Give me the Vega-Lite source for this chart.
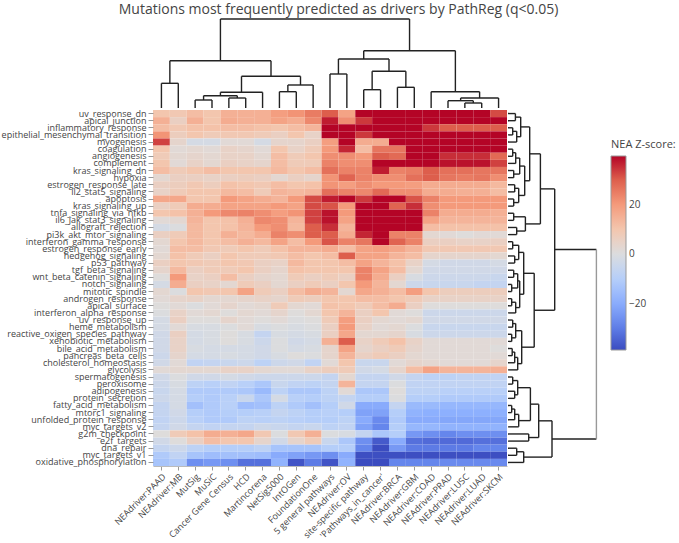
{
"$schema": "https://vega.github.io/schema/vega-lite/v6.json",
"background": "white",
"padding": {"left": 1, "top": 3, "right": 0, "bottom": 0},
"title": {"text": "Mutations most frequently predicted as drivers by PathReg (q<0.05)", "font": "Open Sans", "fontSize": 14, "fontWeight": "normal", "color": "#444", "anchor": "middle", "offset": 1},
"datasets": {
"methods": [{"c":0,"m":"NEAdriver:PAAD"},{"c":1,"m":"NEAdriver:MB"},{"c":2,"m":"MutSig"},{"c":3,"m":"MuSiC"},{"c":4,"m":"Cancer Gene Census"},{"c":5,"m":"HCD"},{"c":6,"m":"Martincorena"},{"c":7,"m":"NetSig5000"},{"c":8,"m":"IntOGen"},{"c":9,"m":"FoundationOne"},{"c":10,"m":"5 general pathways"},{"c":11,"m":"NEAdriver:OV"},{"c":12,"m":"site-specific pathway"},{"c":13,"m":"'Pathways_in_cancer'"},{"c":14,"m":"NEAdriver:BRCA"},{"c":15,"m":"NEAdriver:GBM"},{"c":16,"m":"NEAdriver:COAD"},{"c":17,"m":"NEAdriver:PRAD"},{"c":18,"m":"NEAdriver:LUSC"},{"c":19,"m":"NEAdriver:LUAD"},{"c":20,"m":"NEAdriver:SKCM"}],
"genes": [{"r":0,"g":"uv_response_dn"},{"r":1,"g":"apical_junction"},{"r":2,"g":"inflammatory_response"},{"r":3,"g":"epithelial_mesenchymal_transition"},{"r":4,"g":"myogenesis"},{"r":5,"g":"coagulation"},{"r":6,"g":"angiogenesis"},{"r":7,"g":"complement"},{"r":8,"g":"kras_signaling_dn"},{"r":9,"g":"hypoxia"},{"r":10,"g":"estrogen_response_late"},{"r":11,"g":"il2_stat5_signaling"},{"r":12,"g":"apoptosis"},{"r":13,"g":"kras_signaling_up"},{"r":14,"g":"tnfa_signaling_via_nfkb"},{"r":15,"g":"il6_jak_stat3_signaling"},{"r":16,"g":"allograft_rejection"},{"r":17,"g":"pi3k_akt_mtor_signaling"},{"r":18,"g":"interferon_gamma_response"},{"r":19,"g":"estrogen_response_early"},{"r":20,"g":"hedgehog_signaling"},{"r":21,"g":"p53_pathway"},{"r":22,"g":"tgf_beta_signaling"},{"r":23,"g":"wnt_beta_catenin_signaling"},{"r":24,"g":"notch_signaling"},{"r":25,"g":"mitotic_spindle"},{"r":26,"g":"androgen_response"},{"r":27,"g":"apical_surface"},{"r":28,"g":"interferon_alpha_response"},{"r":29,"g":"uv_response_up"},{"r":30,"g":"heme_metabolism"},{"r":31,"g":"reactive_oxigen_species_pathway"},{"r":32,"g":"xenobiotic_metabolism"},{"r":33,"g":"bile_acid_metabolism"},{"r":34,"g":"pancreas_beta_cells"},{"r":35,"g":"cholesterol_homeostasis"},{"r":36,"g":"glycolysis"},{"r":37,"g":"spermatogenesis"},{"r":38,"g":"peroxisome"},{"r":39,"g":"adipogenesis"},{"r":40,"g":"protein_secretion"},{"r":41,"g":"fatty_acid_metabolism"},{"r":42,"g":"mtorc1_signaling"},{"r":43,"g":"unfolded_protein_response"},{"r":44,"g":"myc_targets_v2"},{"r":45,"g":"g2m_checkpoint"},{"r":46,"g":"e2f_targets"},{"r":47,"g":"dna_repair"},{"r":48,"g":"myc_targets_v1"},{"r":49,"g":"oxidative_phosphorylation"}],
"colTree": [
{"xl":0,"xr":1,"hl":0,"hr":0,"h":24.7},
{"xl":2,"xr":3,"hl":0,"hr":0,"h":8},
{"xl":4,"xr":5,"hl":0,"hr":0,"h":10},
{"xl":2.5,"xr":4.5,"hl":8,"hr":10,"h":12.3},
{"xl":3.5,"xr":6,"hl":12.3,"hr":0,"h":15.7},
{"xl":7,"xr":8,"hl":0,"hr":0,"h":16.3},
{"xl":7.5,"xr":9,"hl":16.3,"hr":0,"h":23},
{"xl":4.75,"xr":8.25,"hl":15.7,"hr":23,"h":31.7},
{"xl":0.5,"xr":6.5,"hl":24.7,"hr":31.7,"h":47.3},
{"xl":10,"xr":11,"hl":0,"hr":0,"h":34},
{"xl":12,"xr":13,"hl":0,"hr":0,"h":18.3},
{"xl":14,"xr":15,"hl":0,"hr":0,"h":20.7},
{"xl":12.5,"xr":14.5,"hl":18.3,"hr":20.7,"h":36.7},
{"xl":10.5,"xr":13.5,"hl":34,"hr":36.7,"h":49},
{"xl":18,"xr":19,"hl":0,"hr":0,"h":5},
{"xl":17,"xr":18.5,"hl":0,"hr":5,"h":7.3},
{"xl":17.75,"xr":20,"hl":7.3,"hr":0,"h":10},
{"xl":16,"xr":18.875,"hl":0,"hr":10,"h":16.3},
{"xl":12,"xr":17.4375,"hl":49,"hr":16.3,"h":57.3},
{"xl":3.5,"xr":14.71875,"hl":47.3,"hr":57.3,"h":89}
],
"rowTree": [
{"n":"n1","a":0,"b":1,"da":0,"db":0,"d":7.4},
{"n":"n2","a":2,"b":3,"da":0,"db":0,"d":4.7},
{"n":"n3","a":2.5,"b":4,"da":4.7,"db":0,"d":8.7},
{"n":"n4","a":0.5,"b":3.25,"da":7.4,"db":8.7,"d":12.7},
{"n":"n5","a":5,"b":6,"da":0,"db":0,"d":4.7},
{"n":"n6","a":5.5,"b":7,"da":4.7,"db":0,"d":7.7},
{"n":"n7","a":8,"b":9,"da":0,"db":0,"d":5.7},
{"n":"n8","a":6.25,"b":8.5,"da":7.7,"db":5.7,"d":11.7},
{"n":"n9","a":10,"b":11,"da":0,"db":0,"d":6.7},
{"n":"n10","a":12,"b":13,"da":0,"db":0,"d":5.7},
{"n":"n11","a":10.5,"b":12.5,"da":6.7,"db":5.7,"d":10.7},
{"n":"n12","a":7.375,"b":11.5,"da":11.7,"db":10.7,"d":16.7},
{"n":"U1a","a":1.875,"b":9.4375,"da":12.7,"db":16.7,"d":21.7},
{"n":"n13","a":14,"b":15,"da":0,"db":0,"d":5.7},
{"n":"n14","a":16,"b":17,"da":0,"db":0,"d":8.7},
{"n":"n15","a":14.5,"b":16.5,"da":5.7,"db":8.7,"d":17.4},
{"n":"U1","a":5.65625,"b":15.5,"da":21.7,"db":17.4,"d":32.4},
{"n":"n16","a":18,"b":19,"da":0,"db":0,"d":4.7},
{"n":"n17","a":20,"b":21,"da":0,"db":0,"d":6.7},
{"n":"n18","a":18.5,"b":20.5,"da":4.7,"db":6.7,"d":10.7},
{"n":"n19","a":22,"b":23,"da":0,"db":0,"d":5.7},
{"n":"n20","a":24,"b":25,"da":0,"db":0,"d":3.7},
{"n":"n21","a":22.5,"b":24.5,"da":5.7,"db":3.7,"d":9.7},
{"n":"n22","a":26,"b":27,"da":0,"db":0,"d":3.7},
{"n":"n23","a":26.5,"b":28,"da":3.7,"db":0,"d":7.7},
{"n":"n24","a":23.5,"b":27.25,"da":9.7,"db":7.7,"d":11.7},
{"n":"U2a","a":19.5,"b":25.375,"da":10.7,"db":11.7,"d":15.7},
{"n":"n25","a":29,"b":30,"da":0,"db":0,"d":4.7},
{"n":"n26","a":31,"b":32,"da":0,"db":0,"d":3.7},
{"n":"n27","a":29.5,"b":31.5,"da":4.7,"db":3.7,"d":7.7},
{"n":"n28","a":33,"b":34,"da":0,"db":0,"d":4.2},
{"n":"n29","a":33.5,"b":35,"da":4.2,"db":0,"d":6.7},
{"n":"n30","a":34.25,"b":36,"da":6.7,"db":0,"d":9.7},
{"n":"U2b","a":30.5,"b":35.125,"da":7.7,"db":9.7,"d":13.7},
{"n":"U2","a":22.4375,"b":32.8125,"da":15.7,"db":13.7,"d":26.2},
{"n":"U","a":10.578125,"b":27.625,"da":32.4,"db":26.2,"d":46.7},
{"n":"n31","a":37,"b":38,"da":0,"db":0,"d":4.7},
{"n":"n32","a":39,"b":40,"da":0,"db":0,"d":6.7},
{"n":"n33","a":37.5,"b":39.5,"da":4.7,"db":6.7,"d":9.7},
{"n":"n34","a":41,"b":42,"da":0,"db":0,"d":3.7},
{"n":"n35","a":41.5,"b":43,"da":3.7,"db":0,"d":6.7},
{"n":"n36","a":42.25,"b":44,"da":6.7,"db":0,"d":10.7},
{"n":"L1a","a":38.5,"b":43.125,"da":9.7,"db":10.7,"d":22.4},
{"n":"L1b","a":45,"b":46,"da":0,"db":0,"d":20.7},
{"n":"L1","a":40.8125,"b":45.5,"da":22.4,"db":20.7,"d":30.7},
{"n":"n37","a":47,"b":48,"da":0,"db":0,"d":8.7},
{"n":"L2","a":47.5,"b":49,"da":8.7,"db":0,"d":15.7},
{"n":"L","a":43.15625,"b":48.25,"da":30.7,"db":15.7,"d":44},
{"n":"root","a":19.1015625,"b":45.703125,"da":46.7,"db":44,"d":88.4}
],
"cells": [
{"r":0,"c":0,"z":10},{"r":0,"c":1,"z":9},{"r":0,"c":2,"z":12},{"r":0,"c":3,"z":10},{"r":0,"c":4,"z":15},{"r":0,"c":5,"z":15},{"r":0,"c":6,"z":15},{"r":0,"c":7,"z":19},{"r":0,"c":8,"z":21},{"r":0,"c":9,"z":25},{"r":0,"c":10,"z":30},{"r":0,"c":11,"z":18},{"r":0,"c":12,"z":40},{"r":0,"c":13,"z":40},{"r":0,"c":14,"z":40},{"r":0,"c":15,"z":40},{"r":0,"c":16,"z":40},{"r":0,"c":17,"z":40},{"r":0,"c":18,"z":40},{"r":0,"c":19,"z":40},{"r":0,"c":20,"z":32},
{"r":1,"c":0,"z":15},{"r":1,"c":1,"z":6},{"r":1,"c":2,"z":15},{"r":1,"c":3,"z":10},{"r":1,"c":4,"z":16},{"r":1,"c":5,"z":15},{"r":1,"c":6,"z":15},{"r":1,"c":7,"z":18},{"r":1,"c":8,"z":16},{"r":1,"c":9,"z":23},{"r":1,"c":10,"z":37},{"r":1,"c":11,"z":22},{"r":1,"c":12,"z":34},{"r":1,"c":13,"z":40},{"r":1,"c":14,"z":40},{"r":1,"c":15,"z":40},{"r":1,"c":16,"z":40},{"r":1,"c":17,"z":40},{"r":1,"c":18,"z":40},{"r":1,"c":19,"z":40},{"r":1,"c":20,"z":40},
{"r":2,"c":0,"z":12},{"r":2,"c":1,"z":9},{"r":2,"c":2,"z":11},{"r":2,"c":3,"z":11},{"r":2,"c":4,"z":12},{"r":2,"c":5,"z":12},{"r":2,"c":6,"z":11},{"r":2,"c":7,"z":10},{"r":2,"c":8,"z":12},{"r":2,"c":9,"z":14},{"r":2,"c":10,"z":40},{"r":2,"c":11,"z":40},{"r":2,"c":12,"z":40},{"r":2,"c":13,"z":40},{"r":2,"c":14,"z":40},{"r":2,"c":15,"z":40},{"r":2,"c":16,"z":34},{"r":2,"c":17,"z":30},{"r":2,"c":18,"z":30},{"r":2,"c":19,"z":30},{"r":2,"c":20,"z":30},
{"r":3,"c":0,"z":21},{"r":3,"c":1,"z":7},{"r":3,"c":2,"z":10},{"r":3,"c":3,"z":8},{"r":3,"c":4,"z":9},{"r":3,"c":5,"z":9},{"r":3,"c":6,"z":8},{"r":3,"c":7,"z":6},{"r":3,"c":8,"z":10},{"r":3,"c":9,"z":5},{"r":3,"c":10,"z":40},{"r":3,"c":11,"z":40},{"r":3,"c":12,"z":34},{"r":3,"c":13,"z":40},{"r":3,"c":14,"z":40},{"r":3,"c":15,"z":40},{"r":3,"c":16,"z":40},{"r":3,"c":17,"z":40},{"r":3,"c":18,"z":40},{"r":3,"c":19,"z":40},{"r":3,"c":20,"z":40},
{"r":4,"c":0,"z":33},{"r":4,"c":1,"z":4},{"r":4,"c":2,"z":-2},{"r":4,"c":3,"z":-2},{"r":4,"c":4,"z":2},{"r":4,"c":5,"z":2},{"r":4,"c":6,"z":-2},{"r":4,"c":7,"z":4},{"r":4,"c":8,"z":4},{"r":4,"c":9,"z":6},{"r":4,"c":10,"z":19},{"r":4,"c":11,"z":40},{"r":4,"c":12,"z":16},{"r":4,"c":13,"z":16},{"r":4,"c":14,"z":40},{"r":4,"c":15,"z":40},{"r":4,"c":16,"z":40},{"r":4,"c":17,"z":40},{"r":4,"c":18,"z":40},{"r":4,"c":19,"z":40},{"r":4,"c":20,"z":40},
{"r":5,"c":0,"z":10},{"r":5,"c":1,"z":2},{"r":5,"c":2,"z":3},{"r":5,"c":3,"z":2},{"r":5,"c":4,"z":5},{"r":5,"c":5,"z":4},{"r":5,"c":6,"z":2},{"r":5,"c":7,"z":10},{"r":5,"c":8,"z":5},{"r":5,"c":9,"z":8},{"r":5,"c":10,"z":20},{"r":5,"c":11,"z":36},{"r":5,"c":12,"z":12},{"r":5,"c":13,"z":26},{"r":5,"c":14,"z":26},{"r":5,"c":15,"z":40},{"r":5,"c":16,"z":40},{"r":5,"c":17,"z":40},{"r":5,"c":18,"z":40},{"r":5,"c":19,"z":40},{"r":5,"c":20,"z":40},
{"r":6,"c":0,"z":8},{"r":6,"c":1,"z":3},{"r":6,"c":2,"z":4},{"r":6,"c":3,"z":3},{"r":6,"c":4,"z":5},{"r":6,"c":5,"z":5},{"r":6,"c":6,"z":3},{"r":6,"c":7,"z":12},{"r":6,"c":8,"z":8},{"r":6,"c":9,"z":10},{"r":6,"c":10,"z":22},{"r":6,"c":11,"z":22},{"r":6,"c":12,"z":20},{"r":6,"c":13,"z":30},{"r":6,"c":14,"z":28},{"r":6,"c":15,"z":40},{"r":6,"c":16,"z":40},{"r":6,"c":17,"z":35},{"r":6,"c":18,"z":35},{"r":6,"c":19,"z":35},{"r":6,"c":20,"z":28},
{"r":7,"c":0,"z":10},{"r":7,"c":1,"z":2},{"r":7,"c":2,"z":5},{"r":7,"c":3,"z":3},{"r":7,"c":4,"z":6},{"r":7,"c":5,"z":5},{"r":7,"c":6,"z":4},{"r":7,"c":7,"z":12},{"r":7,"c":8,"z":8},{"r":7,"c":9,"z":8},{"r":7,"c":10,"z":24},{"r":7,"c":11,"z":22},{"r":7,"c":12,"z":22},{"r":7,"c":13,"z":40},{"r":7,"c":14,"z":40},{"r":7,"c":15,"z":40},{"r":7,"c":16,"z":40},{"r":7,"c":17,"z":38},{"r":7,"c":18,"z":38},{"r":7,"c":19,"z":38},{"r":7,"c":20,"z":33},
{"r":8,"c":0,"z":12},{"r":8,"c":1,"z":8},{"r":8,"c":2,"z":10},{"r":8,"c":3,"z":12},{"r":8,"c":4,"z":10},{"r":8,"c":5,"z":10},{"r":8,"c":6,"z":10},{"r":8,"c":7,"z":13},{"r":8,"c":8,"z":10},{"r":8,"c":9,"z":12},{"r":8,"c":10,"z":27},{"r":8,"c":11,"z":24},{"r":8,"c":12,"z":24},{"r":8,"c":13,"z":37},{"r":8,"c":14,"z":24},{"r":8,"c":15,"z":25},{"r":8,"c":16,"z":30},{"r":8,"c":17,"z":27},{"r":8,"c":18,"z":27},{"r":8,"c":19,"z":26},{"r":8,"c":20,"z":26},
{"r":9,"c":0,"z":3},{"r":9,"c":1,"z":6},{"r":9,"c":2,"z":6},{"r":9,"c":3,"z":5},{"r":9,"c":4,"z":6},{"r":9,"c":5,"z":7},{"r":9,"c":6,"z":6},{"r":9,"c":7,"z":3},{"r":9,"c":8,"z":6},{"r":9,"c":9,"z":4},{"r":9,"c":10,"z":21},{"r":9,"c":11,"z":29},{"r":9,"c":12,"z":24},{"r":9,"c":13,"z":22},{"r":9,"c":14,"z":22},{"r":9,"c":15,"z":27},{"r":9,"c":16,"z":30},{"r":9,"c":17,"z":26},{"r":9,"c":18,"z":25},{"r":9,"c":19,"z":26},{"r":9,"c":20,"z":22},
{"r":10,"c":0,"z":6},{"r":10,"c":1,"z":7},{"r":10,"c":2,"z":9},{"r":10,"c":3,"z":7},{"r":10,"c":4,"z":11},{"r":10,"c":5,"z":10},{"r":10,"c":6,"z":9},{"r":10,"c":7,"z":12},{"r":10,"c":8,"z":10},{"r":10,"c":9,"z":11},{"r":10,"c":10,"z":21},{"r":10,"c":11,"z":19},{"r":10,"c":12,"z":22},{"r":10,"c":13,"z":20},{"r":10,"c":14,"z":20},{"r":10,"c":15,"z":19},{"r":10,"c":16,"z":16},{"r":10,"c":17,"z":16},{"r":10,"c":18,"z":16},{"r":10,"c":19,"z":16},{"r":10,"c":20,"z":13},
{"r":11,"c":0,"z":5},{"r":11,"c":1,"z":8},{"r":11,"c":2,"z":10},{"r":11,"c":3,"z":10},{"r":11,"c":4,"z":13},{"r":11,"c":5,"z":12},{"r":11,"c":6,"z":8},{"r":11,"c":7,"z":14},{"r":11,"c":8,"z":13},{"r":11,"c":9,"z":14},{"r":11,"c":10,"z":27},{"r":11,"c":11,"z":24},{"r":11,"c":12,"z":23},{"r":11,"c":13,"z":28},{"r":11,"c":14,"z":22},{"r":11,"c":15,"z":22},{"r":11,"c":16,"z":16},{"r":11,"c":17,"z":16},{"r":11,"c":18,"z":15},{"r":11,"c":19,"z":15},{"r":11,"c":20,"z":12},
{"r":12,"c":0,"z":17},{"r":12,"c":1,"z":17},{"r":12,"c":2,"z":10},{"r":12,"c":3,"z":10},{"r":12,"c":4,"z":20},{"r":12,"c":5,"z":18},{"r":12,"c":6,"z":16},{"r":12,"c":7,"z":14},{"r":12,"c":8,"z":20},{"r":12,"c":9,"z":32},{"r":12,"c":10,"z":37},{"r":12,"c":11,"z":40},{"r":12,"c":12,"z":34},{"r":12,"c":13,"z":40},{"r":12,"c":14,"z":40},{"r":12,"c":15,"z":31},{"r":12,"c":16,"z":24},{"r":12,"c":17,"z":20},{"r":12,"c":18,"z":20},{"r":12,"c":19,"z":20},{"r":12,"c":20,"z":20},
{"r":13,"c":0,"z":6},{"r":13,"c":1,"z":8},{"r":13,"c":2,"z":16},{"r":13,"c":3,"z":16},{"r":13,"c":4,"z":18},{"r":13,"c":5,"z":18},{"r":13,"c":6,"z":18},{"r":13,"c":7,"z":20},{"r":13,"c":8,"z":18},{"r":13,"c":9,"z":32},{"r":13,"c":10,"z":31},{"r":13,"c":11,"z":20},{"r":13,"c":12,"z":40},{"r":13,"c":13,"z":40},{"r":13,"c":14,"z":29},{"r":13,"c":15,"z":35},{"r":13,"c":16,"z":22},{"r":13,"c":17,"z":20},{"r":13,"c":18,"z":20},{"r":13,"c":19,"z":20},{"r":13,"c":20,"z":20},
{"r":14,"c":0,"z":10},{"r":14,"c":1,"z":11},{"r":14,"c":2,"z":15},{"r":14,"c":3,"z":20},{"r":14,"c":4,"z":23},{"r":14,"c":5,"z":24},{"r":14,"c":6,"z":22},{"r":14,"c":7,"z":19},{"r":14,"c":8,"z":21},{"r":14,"c":9,"z":33},{"r":14,"c":10,"z":38},{"r":14,"c":11,"z":20},{"r":14,"c":12,"z":40},{"r":14,"c":13,"z":40},{"r":14,"c":14,"z":40},{"r":14,"c":15,"z":40},{"r":14,"c":16,"z":24},{"r":14,"c":17,"z":16},{"r":14,"c":18,"z":16},{"r":14,"c":19,"z":16},{"r":14,"c":20,"z":15},
{"r":15,"c":0,"z":2},{"r":15,"c":1,"z":3},{"r":15,"c":2,"z":14},{"r":15,"c":3,"z":10},{"r":15,"c":4,"z":11},{"r":15,"c":5,"z":15},{"r":15,"c":6,"z":23},{"r":15,"c":7,"z":22},{"r":15,"c":8,"z":14},{"r":15,"c":9,"z":33},{"r":15,"c":10,"z":38},{"r":15,"c":11,"z":18},{"r":15,"c":12,"z":40},{"r":15,"c":13,"z":40},{"r":15,"c":14,"z":40},{"r":15,"c":15,"z":40},{"r":15,"c":16,"z":18},{"r":15,"c":17,"z":14},{"r":15,"c":18,"z":14},{"r":15,"c":19,"z":14},{"r":15,"c":20,"z":14},
{"r":16,"c":0,"z":-2},{"r":16,"c":1,"z":0},{"r":16,"c":2,"z":13},{"r":16,"c":3,"z":10},{"r":16,"c":4,"z":11},{"r":16,"c":5,"z":14},{"r":16,"c":6,"z":20},{"r":16,"c":7,"z":22},{"r":16,"c":8,"z":13},{"r":16,"c":9,"z":30},{"r":16,"c":10,"z":35},{"r":16,"c":11,"z":14},{"r":16,"c":12,"z":40},{"r":16,"c":13,"z":40},{"r":16,"c":14,"z":40},{"r":16,"c":15,"z":40},{"r":16,"c":16,"z":12},{"r":16,"c":17,"z":11},{"r":16,"c":18,"z":11},{"r":16,"c":19,"z":11},{"r":16,"c":20,"z":11},
{"r":17,"c":0,"z":6},{"r":17,"c":1,"z":8},{"r":17,"c":2,"z":13},{"r":17,"c":3,"z":10},{"r":17,"c":4,"z":15},{"r":17,"c":5,"z":13},{"r":17,"c":6,"z":16},{"r":17,"c":7,"z":24},{"r":17,"c":8,"z":22},{"r":17,"c":9,"z":30},{"r":17,"c":10,"z":30},{"r":17,"c":11,"z":16},{"r":17,"c":12,"z":36},{"r":17,"c":13,"z":40},{"r":17,"c":14,"z":24},{"r":17,"c":15,"z":24},{"r":17,"c":16,"z":3},{"r":17,"c":17,"z":2},{"r":17,"c":18,"z":1},{"r":17,"c":19,"z":2},{"r":17,"c":20,"z":2},
{"r":18,"c":0,"z":3},{"r":18,"c":1,"z":10},{"r":18,"c":2,"z":13},{"r":18,"c":3,"z":10},{"r":18,"c":4,"z":12},{"r":18,"c":5,"z":15},{"r":18,"c":6,"z":13},{"r":18,"c":7,"z":18},{"r":18,"c":8,"z":12},{"r":18,"c":9,"z":20},{"r":18,"c":10,"z":31},{"r":18,"c":11,"z":24},{"r":18,"c":12,"z":26},{"r":18,"c":13,"z":40},{"r":18,"c":14,"z":29},{"r":18,"c":15,"z":24},{"r":18,"c":16,"z":6},{"r":18,"c":17,"z":6},{"r":18,"c":18,"z":5},{"r":18,"c":19,"z":5},{"r":18,"c":20,"z":6},
{"r":19,"c":0,"z":2},{"r":19,"c":1,"z":12},{"r":19,"c":2,"z":12},{"r":19,"c":3,"z":9},{"r":19,"c":4,"z":8},{"r":19,"c":5,"z":10},{"r":19,"c":6,"z":8},{"r":19,"c":7,"z":11},{"r":19,"c":8,"z":14},{"r":19,"c":9,"z":14},{"r":19,"c":10,"z":16},{"r":19,"c":11,"z":12},{"r":19,"c":12,"z":18},{"r":19,"c":13,"z":19},{"r":19,"c":14,"z":17},{"r":19,"c":15,"z":14},{"r":19,"c":16,"z":9},{"r":19,"c":17,"z":9},{"r":19,"c":18,"z":9},{"r":19,"c":19,"z":9},{"r":19,"c":20,"z":9},
{"r":20,"c":0,"z":3},{"r":20,"c":1,"z":11},{"r":20,"c":2,"z":8},{"r":20,"c":3,"z":6},{"r":20,"c":4,"z":10},{"r":20,"c":5,"z":8},{"r":20,"c":6,"z":8},{"r":20,"c":7,"z":9},{"r":20,"c":8,"z":12},{"r":20,"c":9,"z":10},{"r":20,"c":10,"z":12},{"r":20,"c":11,"z":30},{"r":20,"c":12,"z":18},{"r":20,"c":13,"z":18},{"r":20,"c":14,"z":14},{"r":20,"c":15,"z":12},{"r":20,"c":16,"z":4},{"r":20,"c":17,"z":4},{"r":20,"c":18,"z":4},{"r":20,"c":19,"z":4},{"r":20,"c":20,"z":3},
{"r":21,"c":0,"z":6},{"r":21,"c":1,"z":10},{"r":21,"c":2,"z":9},{"r":21,"c":3,"z":8},{"r":21,"c":4,"z":10},{"r":21,"c":5,"z":9},{"r":21,"c":6,"z":6},{"r":21,"c":7,"z":5},{"r":21,"c":8,"z":13},{"r":21,"c":9,"z":10},{"r":21,"c":10,"z":10},{"r":21,"c":11,"z":12},{"r":21,"c":12,"z":18},{"r":21,"c":13,"z":14},{"r":21,"c":14,"z":11},{"r":21,"c":15,"z":5},{"r":21,"c":16,"z":-2},{"r":21,"c":17,"z":-3},{"r":21,"c":18,"z":-3},{"r":21,"c":19,"z":-3},{"r":21,"c":20,"z":-2},
{"r":22,"c":0,"z":4},{"r":22,"c":1,"z":13},{"r":22,"c":2,"z":6},{"r":22,"c":3,"z":8},{"r":22,"c":4,"z":8},{"r":22,"c":5,"z":10},{"r":22,"c":6,"z":6},{"r":22,"c":7,"z":4},{"r":22,"c":8,"z":11},{"r":22,"c":9,"z":10},{"r":22,"c":10,"z":10},{"r":22,"c":11,"z":10},{"r":22,"c":12,"z":24},{"r":22,"c":13,"z":18},{"r":22,"c":14,"z":12},{"r":22,"c":15,"z":3},{"r":22,"c":16,"z":-3},{"r":22,"c":17,"z":-3},{"r":22,"c":18,"z":-3},{"r":22,"c":19,"z":-3},{"r":22,"c":20,"z":-3},
{"r":23,"c":0,"z":1},{"r":23,"c":1,"z":20},{"r":23,"c":2,"z":5},{"r":23,"c":3,"z":6},{"r":23,"c":4,"z":12},{"r":23,"c":5,"z":6},{"r":23,"c":6,"z":4},{"r":23,"c":7,"z":3},{"r":23,"c":8,"z":8},{"r":23,"c":9,"z":6},{"r":23,"c":10,"z":8},{"r":23,"c":11,"z":6},{"r":23,"c":12,"z":24},{"r":23,"c":13,"z":16},{"r":23,"c":14,"z":6},{"r":23,"c":15,"z":-1},{"r":23,"c":16,"z":-4},{"r":23,"c":17,"z":-4},{"r":23,"c":18,"z":-4},{"r":23,"c":19,"z":-4},{"r":23,"c":20,"z":-5},
{"r":24,"c":0,"z":-2},{"r":24,"c":1,"z":16},{"r":24,"c":2,"z":6},{"r":24,"c":3,"z":5},{"r":24,"c":4,"z":3},{"r":24,"c":5,"z":8},{"r":24,"c":6,"z":6},{"r":24,"c":7,"z":3},{"r":24,"c":8,"z":6},{"r":24,"c":9,"z":8},{"r":24,"c":10,"z":6},{"r":24,"c":11,"z":10},{"r":24,"c":12,"z":20},{"r":24,"c":13,"z":14},{"r":24,"c":14,"z":3},{"r":24,"c":15,"z":-4},{"r":24,"c":16,"z":-5},{"r":24,"c":17,"z":-5},{"r":24,"c":18,"z":-5},{"r":24,"c":19,"z":-6},{"r":24,"c":20,"z":-6},
{"r":25,"c":0,"z":3},{"r":25,"c":1,"z":0},{"r":25,"c":2,"z":10},{"r":25,"c":3,"z":9},{"r":25,"c":4,"z":10},{"r":25,"c":5,"z":18},{"r":25,"c":6,"z":8},{"r":25,"c":7,"z":6},{"r":25,"c":8,"z":12},{"r":25,"c":9,"z":16},{"r":25,"c":10,"z":14},{"r":25,"c":11,"z":3},{"r":25,"c":12,"z":17},{"r":25,"c":13,"z":15},{"r":25,"c":14,"z":12},{"r":25,"c":15,"z":19},{"r":25,"c":16,"z":10},{"r":25,"c":17,"z":7},{"r":25,"c":18,"z":7},{"r":25,"c":19,"z":7},{"r":25,"c":20,"z":7},
{"r":26,"c":0,"z":2},{"r":26,"c":1,"z":4},{"r":26,"c":2,"z":5},{"r":26,"c":3,"z":3},{"r":26,"c":4,"z":3},{"r":26,"c":5,"z":4},{"r":26,"c":6,"z":5},{"r":26,"c":7,"z":4},{"r":26,"c":8,"z":8},{"r":26,"c":9,"z":7},{"r":26,"c":10,"z":10},{"r":26,"c":11,"z":10},{"r":26,"c":12,"z":12},{"r":26,"c":13,"z":12},{"r":26,"c":14,"z":10},{"r":26,"c":15,"z":8},{"r":26,"c":16,"z":5},{"r":26,"c":17,"z":5},{"r":26,"c":18,"z":5},{"r":26,"c":19,"z":5},{"r":26,"c":20,"z":5},
{"r":27,"c":0,"z":1},{"r":27,"c":1,"z":2},{"r":27,"c":2,"z":0},{"r":27,"c":3,"z":2},{"r":27,"c":4,"z":4},{"r":27,"c":5,"z":2},{"r":27,"c":6,"z":3},{"r":27,"c":7,"z":8},{"r":27,"c":8,"z":3},{"r":27,"c":9,"z":2},{"r":27,"c":10,"z":11},{"r":27,"c":11,"z":10},{"r":27,"c":12,"z":8},{"r":27,"c":13,"z":12},{"r":27,"c":14,"z":16},{"r":27,"c":15,"z":6},{"r":27,"c":16,"z":1},{"r":27,"c":17,"z":1},{"r":27,"c":18,"z":1},{"r":27,"c":19,"z":1},{"r":27,"c":20,"z":1},
{"r":28,"c":0,"z":0},{"r":28,"c":1,"z":5},{"r":28,"c":2,"z":2},{"r":28,"c":3,"z":3},{"r":28,"c":4,"z":1},{"r":28,"c":5,"z":3},{"r":28,"c":6,"z":2},{"r":28,"c":7,"z":4},{"r":28,"c":8,"z":1},{"r":28,"c":9,"z":3},{"r":28,"c":10,"z":10},{"r":28,"c":11,"z":14},{"r":28,"c":12,"z":6},{"r":28,"c":13,"z":10},{"r":28,"c":14,"z":2},{"r":28,"c":15,"z":1},{"r":28,"c":16,"z":-4},{"r":28,"c":17,"z":-4},{"r":28,"c":18,"z":-4},{"r":28,"c":19,"z":-4},{"r":28,"c":20,"z":-4},
{"r":29,"c":0,"z":-2},{"r":29,"c":1,"z":6},{"r":29,"c":2,"z":1},{"r":29,"c":3,"z":1},{"r":29,"c":4,"z":4},{"r":29,"c":5,"z":2},{"r":29,"c":6,"z":1},{"r":29,"c":7,"z":2},{"r":29,"c":8,"z":0},{"r":29,"c":9,"z":1},{"r":29,"c":10,"z":8},{"r":29,"c":11,"z":19},{"r":29,"c":12,"z":6},{"r":29,"c":13,"z":3},{"r":29,"c":14,"z":2},{"r":29,"c":15,"z":3},{"r":29,"c":16,"z":-3},{"r":29,"c":17,"z":-3},{"r":29,"c":18,"z":-3},{"r":29,"c":19,"z":-3},{"r":29,"c":20,"z":-3},
{"r":30,"c":0,"z":-2},{"r":30,"c":1,"z":2},{"r":30,"c":2,"z":-1},{"r":30,"c":3,"z":-1},{"r":30,"c":4,"z":0},{"r":30,"c":5,"z":2},{"r":30,"c":6,"z":-1},{"r":30,"c":7,"z":0},{"r":30,"c":8,"z":-1},{"r":30,"c":9,"z":0},{"r":30,"c":10,"z":6},{"r":30,"c":11,"z":20},{"r":30,"c":12,"z":5},{"r":30,"c":13,"z":2},{"r":30,"c":14,"z":3},{"r":30,"c":15,"z":0},{"r":30,"c":16,"z":-5},{"r":30,"c":17,"z":-5},{"r":30,"c":18,"z":-5},{"r":30,"c":19,"z":-5},{"r":30,"c":20,"z":-5},
{"r":31,"c":0,"z":-3},{"r":31,"c":1,"z":6},{"r":31,"c":2,"z":-2},{"r":31,"c":3,"z":-1},{"r":31,"c":4,"z":1},{"r":31,"c":5,"z":-1},{"r":31,"c":6,"z":-6},{"r":31,"c":7,"z":-1},{"r":31,"c":8,"z":-2},{"r":31,"c":9,"z":-1},{"r":31,"c":10,"z":6},{"r":31,"c":11,"z":17},{"r":31,"c":12,"z":3},{"r":31,"c":13,"z":3},{"r":31,"c":14,"z":4},{"r":31,"c":15,"z":-1},{"r":31,"c":16,"z":-4},{"r":31,"c":17,"z":-4},{"r":31,"c":18,"z":-4},{"r":31,"c":19,"z":-4},{"r":31,"c":20,"z":-4},
{"r":32,"c":0,"z":-3},{"r":32,"c":1,"z":5},{"r":32,"c":2,"z":-2},{"r":32,"c":3,"z":-1},{"r":32,"c":4,"z":1},{"r":32,"c":5,"z":-1},{"r":32,"c":6,"z":-4},{"r":32,"c":7,"z":0},{"r":32,"c":8,"z":-3},{"r":32,"c":9,"z":-2},{"r":32,"c":10,"z":15},{"r":32,"c":11,"z":30},{"r":32,"c":12,"z":5},{"r":32,"c":13,"z":8},{"r":32,"c":14,"z":11},{"r":32,"c":15,"z":5},{"r":32,"c":16,"z":2},{"r":32,"c":17,"z":2},{"r":32,"c":18,"z":2},{"r":32,"c":19,"z":2},{"r":32,"c":20,"z":2},
{"r":33,"c":0,"z":-3},{"r":33,"c":1,"z":5},{"r":33,"c":2,"z":-1},{"r":33,"c":3,"z":-2},{"r":33,"c":4,"z":-2},{"r":33,"c":5,"z":-2},{"r":33,"c":6,"z":-3},{"r":33,"c":7,"z":0},{"r":33,"c":8,"z":-2},{"r":33,"c":9,"z":-1},{"r":33,"c":10,"z":4},{"r":33,"c":11,"z":18},{"r":33,"c":12,"z":4},{"r":33,"c":13,"z":6},{"r":33,"c":14,"z":8},{"r":33,"c":15,"z":4},{"r":33,"c":16,"z":2},{"r":33,"c":17,"z":2},{"r":33,"c":18,"z":2},{"r":33,"c":19,"z":2},{"r":33,"c":20,"z":1},
{"r":34,"c":0,"z":-4},{"r":34,"c":1,"z":4},{"r":34,"c":2,"z":-2},{"r":34,"c":3,"z":-2},{"r":34,"c":4,"z":-1},{"r":34,"c":5,"z":-2},{"r":34,"c":6,"z":-3},{"r":34,"c":7,"z":-1},{"r":34,"c":8,"z":1},{"r":34,"c":9,"z":0},{"r":34,"c":10,"z":4},{"r":34,"c":11,"z":14},{"r":34,"c":12,"z":6},{"r":34,"c":13,"z":8},{"r":34,"c":14,"z":6},{"r":34,"c":15,"z":3},{"r":34,"c":16,"z":2},{"r":34,"c":17,"z":2},{"r":34,"c":18,"z":2},{"r":34,"c":19,"z":2},{"r":34,"c":20,"z":2},
{"r":35,"c":0,"z":-3},{"r":35,"c":1,"z":2},{"r":35,"c":2,"z":-7},{"r":35,"c":3,"z":-6},{"r":35,"c":4,"z":-5},{"r":35,"c":5,"z":-4},{"r":35,"c":6,"z":-8},{"r":35,"c":7,"z":-4},{"r":35,"c":8,"z":-3},{"r":35,"c":9,"z":-7},{"r":35,"c":10,"z":2},{"r":35,"c":11,"z":10},{"r":35,"c":12,"z":-5},{"r":35,"c":13,"z":-5},{"r":35,"c":14,"z":2},{"r":35,"c":15,"z":4},{"r":35,"c":16,"z":3},{"r":35,"c":17,"z":2},{"r":35,"c":18,"z":2},{"r":35,"c":19,"z":2},{"r":35,"c":20,"z":4},
{"r":36,"c":0,"z":2},{"r":36,"c":1,"z":3},{"r":36,"c":2,"z":3},{"r":36,"c":3,"z":3},{"r":36,"c":4,"z":5},{"r":36,"c":5,"z":5},{"r":36,"c":6,"z":3},{"r":36,"c":7,"z":2},{"r":36,"c":8,"z":2},{"r":36,"c":9,"z":5},{"r":36,"c":10,"z":7},{"r":36,"c":11,"z":8},{"r":36,"c":12,"z":-3},{"r":36,"c":13,"z":-2},{"r":36,"c":14,"z":4},{"r":36,"c":15,"z":12},{"r":36,"c":16,"z":18},{"r":36,"c":17,"z":14},{"r":36,"c":18,"z":14},{"r":36,"c":19,"z":14},{"r":36,"c":20,"z":15},
{"r":37,"c":0,"z":-3},{"r":37,"c":1,"z":0},{"r":37,"c":2,"z":-3},{"r":37,"c":3,"z":-3},{"r":37,"c":4,"z":-2},{"r":37,"c":5,"z":-3},{"r":37,"c":6,"z":-4},{"r":37,"c":7,"z":-4},{"r":37,"c":8,"z":-4},{"r":37,"c":9,"z":-4},{"r":37,"c":10,"z":-6},{"r":37,"c":11,"z":3},{"r":37,"c":12,"z":-6},{"r":37,"c":13,"z":-6},{"r":37,"c":14,"z":-3},{"r":37,"c":15,"z":-6},{"r":37,"c":16,"z":-8},{"r":37,"c":17,"z":-8},{"r":37,"c":18,"z":-7},{"r":37,"c":19,"z":-7},{"r":37,"c":20,"z":-7},
{"r":38,"c":0,"z":-4},{"r":38,"c":1,"z":-1},{"r":38,"c":2,"z":-8},{"r":38,"c":3,"z":-9},{"r":38,"c":4,"z":-7},{"r":38,"c":5,"z":-9},{"r":38,"c":6,"z":-12},{"r":38,"c":7,"z":-5},{"r":38,"c":8,"z":-7},{"r":38,"c":9,"z":-8},{"r":38,"c":10,"z":-6},{"r":38,"c":11,"z":14},{"r":38,"c":12,"z":-6},{"r":38,"c":13,"z":-6},{"r":38,"c":14,"z":0},{"r":38,"c":15,"z":-7},{"r":38,"c":16,"z":-7},{"r":38,"c":17,"z":-7},{"r":38,"c":18,"z":-7},{"r":38,"c":19,"z":-7},{"r":38,"c":20,"z":-7},
{"r":39,"c":0,"z":-5},{"r":39,"c":1,"z":-2},{"r":39,"c":2,"z":-11},{"r":39,"c":3,"z":-11},{"r":39,"c":4,"z":-11},{"r":39,"c":5,"z":-12},{"r":39,"c":6,"z":-16},{"r":39,"c":7,"z":-8},{"r":39,"c":8,"z":-12},{"r":39,"c":9,"z":-12},{"r":39,"c":10,"z":-8},{"r":39,"c":11,"z":2},{"r":39,"c":12,"z":-12},{"r":39,"c":13,"z":-12},{"r":39,"c":14,"z":1},{"r":39,"c":15,"z":-8},{"r":39,"c":16,"z":-8},{"r":39,"c":17,"z":-9},{"r":39,"c":18,"z":-9},{"r":39,"c":19,"z":-9},{"r":39,"c":20,"z":-9},
{"r":40,"c":0,"z":-4},{"r":40,"c":1,"z":-2},{"r":40,"c":2,"z":-10},{"r":40,"c":3,"z":-11},{"r":40,"c":4,"z":-9},{"r":40,"c":5,"z":-5},{"r":40,"c":6,"z":-12},{"r":40,"c":7,"z":-2},{"r":40,"c":8,"z":-9},{"r":40,"c":9,"z":-10},{"r":40,"c":10,"z":-8},{"r":40,"c":11,"z":-6},{"r":40,"c":12,"z":-10},{"r":40,"c":13,"z":-10},{"r":40,"c":14,"z":0},{"r":40,"c":15,"z":-10},{"r":40,"c":16,"z":-10},{"r":40,"c":17,"z":-11},{"r":40,"c":18,"z":-11},{"r":40,"c":19,"z":-11},{"r":40,"c":20,"z":-11},
{"r":41,"c":0,"z":-6},{"r":41,"c":1,"z":-2},{"r":41,"c":2,"z":-14},{"r":41,"c":3,"z":-11},{"r":41,"c":4,"z":-9},{"r":41,"c":5,"z":-15},{"r":41,"c":6,"z":-14},{"r":41,"c":7,"z":-8},{"r":41,"c":8,"z":-11},{"r":41,"c":9,"z":-14},{"r":41,"c":10,"z":-10},{"r":41,"c":11,"z":-3},{"r":41,"c":12,"z":-20},{"r":41,"c":13,"z":-20},{"r":41,"c":14,"z":-6},{"r":41,"c":15,"z":-16},{"r":41,"c":16,"z":-16},{"r":41,"c":17,"z":-17},{"r":41,"c":18,"z":-17},{"r":41,"c":19,"z":-17},{"r":41,"c":20,"z":-17},
{"r":42,"c":0,"z":-6},{"r":42,"c":1,"z":-3},{"r":42,"c":2,"z":-10},{"r":42,"c":3,"z":-11},{"r":42,"c":4,"z":-10},{"r":42,"c":5,"z":-10},{"r":42,"c":6,"z":-9},{"r":42,"c":7,"z":-6},{"r":42,"c":8,"z":-8},{"r":42,"c":9,"z":-10},{"r":42,"c":10,"z":-9},{"r":42,"c":11,"z":-10},{"r":42,"c":12,"z":-22},{"r":42,"c":13,"z":-22},{"r":42,"c":14,"z":-10},{"r":42,"c":15,"z":-18},{"r":42,"c":16,"z":-19},{"r":42,"c":17,"z":-19},{"r":42,"c":18,"z":-19},{"r":42,"c":19,"z":-19},{"r":42,"c":20,"z":-19},
{"r":43,"c":0,"z":-7},{"r":43,"c":1,"z":-4},{"r":43,"c":2,"z":-9},{"r":43,"c":3,"z":-11},{"r":43,"c":4,"z":-11},{"r":43,"c":5,"z":-8},{"r":43,"c":6,"z":-9},{"r":43,"c":7,"z":-8},{"r":43,"c":8,"z":-9},{"r":43,"c":9,"z":-10},{"r":43,"c":10,"z":-10},{"r":43,"c":11,"z":-8},{"r":43,"c":12,"z":-20},{"r":43,"c":13,"z":-27},{"r":43,"c":14,"z":-11},{"r":43,"c":15,"z":-20},{"r":43,"c":16,"z":-20},{"r":43,"c":17,"z":-21},{"r":43,"c":18,"z":-21},{"r":43,"c":19,"z":-21},{"r":43,"c":20,"z":-21},
{"r":44,"c":0,"z":-6},{"r":44,"c":1,"z":-3},{"r":44,"c":2,"z":-6},{"r":44,"c":3,"z":-7},{"r":44,"c":4,"z":-6},{"r":44,"c":5,"z":-6},{"r":44,"c":6,"z":-4},{"r":44,"c":7,"z":-5},{"r":44,"c":8,"z":-6},{"r":44,"c":9,"z":-5},{"r":44,"c":10,"z":-8},{"r":44,"c":11,"z":-7},{"r":44,"c":12,"z":-22},{"r":44,"c":13,"z":-28},{"r":44,"c":14,"z":-10},{"r":44,"c":15,"z":-17},{"r":44,"c":16,"z":-17},{"r":44,"c":17,"z":-18},{"r":44,"c":18,"z":-18},{"r":44,"c":19,"z":-18},{"r":44,"c":20,"z":-18},
{"r":45,"c":0,"z":1},{"r":45,"c":1,"z":8},{"r":45,"c":2,"z":11},{"r":45,"c":3,"z":16},{"r":45,"c":4,"z":15},{"r":45,"c":5,"z":17},{"r":45,"c":6,"z":9},{"r":45,"c":7,"z":0},{"r":45,"c":8,"z":9},{"r":45,"c":9,"z":15},{"r":45,"c":10,"z":0},{"r":45,"c":11,"z":-1},{"r":45,"c":12,"z":-6},{"r":45,"c":13,"z":-12},{"r":45,"c":14,"z":-10},{"r":45,"c":15,"z":-24},{"r":45,"c":16,"z":-26},{"r":45,"c":17,"z":-28},{"r":45,"c":18,"z":-26},{"r":45,"c":19,"z":-26},{"r":45,"c":20,"z":-26},
{"r":46,"c":0,"z":-3},{"r":46,"c":1,"z":1},{"r":46,"c":2,"z":6},{"r":46,"c":3,"z":12},{"r":46,"c":4,"z":10},{"r":46,"c":5,"z":10},{"r":46,"c":6,"z":4},{"r":46,"c":7,"z":-3},{"r":46,"c":8,"z":4},{"r":46,"c":9,"z":8},{"r":46,"c":10,"z":-5},{"r":46,"c":11,"z":-12},{"r":46,"c":12,"z":-26},{"r":46,"c":13,"z":-36},{"r":46,"c":14,"z":-20},{"r":46,"c":15,"z":-32},{"r":46,"c":16,"z":-33},{"r":46,"c":17,"z":-33},{"r":46,"c":18,"z":-33},{"r":46,"c":19,"z":-32},{"r":46,"c":20,"z":-32},
{"r":47,"c":0,"z":-6},{"r":47,"c":1,"z":-4},{"r":47,"c":2,"z":-8},{"r":47,"c":3,"z":-10},{"r":47,"c":4,"z":-10},{"r":47,"c":5,"z":-10},{"r":47,"c":6,"z":-8},{"r":47,"c":7,"z":-13},{"r":47,"c":8,"z":-13},{"r":47,"c":9,"z":-13},{"r":47,"c":10,"z":-10},{"r":47,"c":11,"z":-10},{"r":47,"c":12,"z":-28},{"r":47,"c":13,"z":-39},{"r":47,"c":14,"z":-24},{"r":47,"c":15,"z":-30},{"r":47,"c":16,"z":-30},{"r":47,"c":17,"z":-30},{"r":47,"c":18,"z":-30},{"r":47,"c":19,"z":-28},{"r":47,"c":20,"z":-28},
{"r":48,"c":0,"z":-11},{"r":48,"c":1,"z":-7},{"r":48,"c":2,"z":-13},{"r":48,"c":3,"z":-15},{"r":48,"c":4,"z":-14},{"r":48,"c":5,"z":-14},{"r":48,"c":6,"z":-15},{"r":48,"c":7,"z":-20},{"r":48,"c":8,"z":-22},{"r":48,"c":9,"z":-24},{"r":48,"c":10,"z":-26},{"r":48,"c":11,"z":-20},{"r":48,"c":12,"z":-38},{"r":48,"c":13,"z":-38},{"r":48,"c":14,"z":-38},{"r":48,"c":15,"z":-38},{"r":48,"c":16,"z":-38},{"r":48,"c":17,"z":-38},{"r":48,"c":18,"z":-38},{"r":48,"c":19,"z":-38},{"r":48,"c":20,"z":-38},
{"r":49,"c":0,"z":-13},{"r":49,"c":1,"z":-11},{"r":49,"c":2,"z":-26},{"r":49,"c":3,"z":-24},{"r":49,"c":4,"z":-26},{"r":49,"c":5,"z":-32},{"r":49,"c":6,"z":-32},{"r":49,"c":7,"z":-18},{"r":49,"c":8,"z":-37},{"r":49,"c":9,"z":-30},{"r":49,"c":10,"z":-37},{"r":49,"c":11,"z":-18},{"r":49,"c":12,"z":-39},{"r":49,"c":13,"z":-39},{"r":49,"c":14,"z":-28},{"r":49,"c":15,"z":-28},{"r":49,"c":16,"z":-28},{"r":49,"c":17,"z":-27},{"r":49,"c":18,"z":-27},{"r":49,"c":19,"z":-27},{"r":49,"c":20,"z":-27}
]
},
"columns": 2,
"spacing": 0,
"align": "each",
"concat": [
{
"width": 354, "height": 89,
"data": {"name": "colTree"},
"layer": [
{"mark": {"type": "rule", "color": "#222", "strokeWidth": 1.4},
 "encoding": {"x": {"field": "xl", "type": "quantitative", "scale": {"domain": [-0.5, 20.5], "nice": false, "zero": false}, "axis": null},
  "y": {"field": "hl", "type": "quantitative", "scale": {"domain": [0, 89], "nice": false, "zero": false}, "axis": null}, "y2": {"field": "h"}}},
{"mark": {"type": "rule", "color": "#222", "strokeWidth": 1.4},
 "encoding": {"x": {"field": "xr", "type": "quantitative", "scale": {"domain": [-0.5, 20.5], "nice": false, "zero": false}, "axis": null},
  "y": {"field": "hr", "type": "quantitative", "scale": {"domain": [0, 89], "nice": false, "zero": false}, "axis": null}, "y2": {"field": "h"}}},
{"mark": {"type": "rule", "color": "#222", "strokeWidth": 1.4},
 "encoding": {"x": {"field": "xl", "type": "quantitative", "scale": {"domain": [-0.5, 20.5], "nice": false, "zero": false}, "axis": null}, "x2": {"field": "xr"},
  "y": {"field": "h", "type": "quantitative", "scale": {"domain": [0, 89], "nice": false, "zero": false}, "axis": null}}}
]
},
{"width": 10, "height": 10, "data": {"values": []}, "mark": "point"},
{
"width": 354, "height": 356,
"data": {"name": "cells"},
"transform": [
 {"lookup": "c", "from": {"data": {"name": "methods"}, "key": "c", "fields": ["m"]}},
 {"lookup": "r", "from": {"data": {"name": "genes"}, "key": "r", "fields": ["g"]}}
],
"mark": {"type": "rect"},
"encoding": {
 "x": {"field": "m", "type": "nominal", "sort": {"field": "c", "op": "min", "order": "ascending"}, "title": null,
  "axis": {"labelAngle": -45, "labelFontSize": 9, "labelColor": "#444", "tickSize": 4, "tickColor": "#999", "domainColor": "#bbb", "labelPadding": 2}},
 "y": {"field": "g", "type": "nominal", "sort": {"field": "r", "op": "min", "order": "ascending"}, "title": null,
  "axis": {"labelFontSize": 9, "labelColor": "#444", "tickSize": 5, "tickColor": "#999", "domain": false, "labelPadding": 2}},
 "color": {"field": "z", "type": "quantitative",
  "scale": {"domain": [-38.5, -28.75, -19, -9.25, 0.5, 10.25, 20, 29.75, 39.5], "range": ["#3b4cc0", "#6282ea", "#8db0fe", "#b8d0f9", "#dddddd", "#f4c5ad", "#f49a7b", "#de604d", "#b40426"], "interpolate": "rgb", "clamp": true},
  "legend": {"orient": "none", "legendX": 458, "legendY": 120, "title": "NEA Z-score:", "values": [-20, 0, 20], "gradientLength": 194, "gradientThickness": 15, "titleFontSize": 11, "titleFontWeight": "normal", "titleColor": "#444", "labelFontSize": 10, "labelColor": "#444", "gradientStrokeColor": "#999", "gradientStrokeWidth": 1, "labelOffset": 3, "titlePadding": 6, "direction": "vertical"}}
}
},
{
"width": 89, "height": 356,
"data": {"name": "rowTree"},
"layer": [
{"mark": {"type": "rule", "color": "#222", "strokeWidth": 1.4},
 "encoding": {"y": {"field": "a", "type": "quantitative", "scale": {"domain": [-0.5, 49.5], "nice": false, "zero": false, "reverse": true}, "axis": null},
  "x": {"field": "da", "type": "quantitative", "scale": {"domain": [0, 89], "nice": false, "zero": false}, "axis": null}, "x2": {"field": "d"}}},
{"mark": {"type": "rule", "color": "#222", "strokeWidth": 1.4},
 "encoding": {"y": {"field": "b", "type": "quantitative", "scale": {"domain": [-0.5, 49.5], "nice": false, "zero": false, "reverse": true}, "axis": null},
  "x": {"field": "db", "type": "quantitative", "scale": {"domain": [0, 89], "nice": false, "zero": false}, "axis": null}, "x2": {"field": "d"}}},
{"mark": {"type": "rule", "strokeWidth": 1.4},
 "encoding": {"x": {"field": "d", "type": "quantitative", "scale": {"domain": [0, 89], "nice": false, "zero": false}, "axis": null},
  "y": {"field": "a", "type": "quantitative", "scale": {"domain": [-0.5, 49.5], "nice": false, "zero": false, "reverse": true}, "axis": null}, "y2": {"field": "b"},
  "color": {"condition": {"test": "datum.n === 'root'", "value": "#999"}, "value": "#222"}}}
]
}
],
"config": {"view": {"stroke": null}, "font": "Open Sans", "axis": {"grid": false}}
}
